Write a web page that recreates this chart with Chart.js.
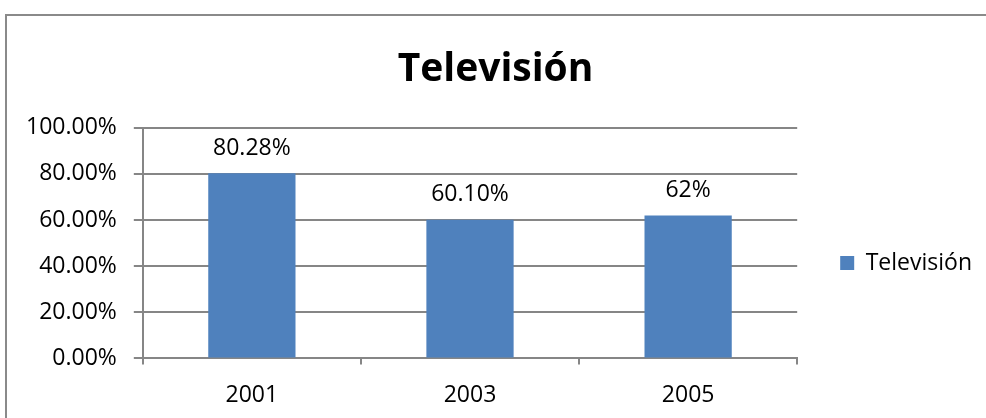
<!DOCTYPE html>
<html>
<head>
<meta charset="utf-8">
<script src="https://cdn.jsdelivr.net/npm/chart.js@4/dist/chart.umd.min.js"></script>
<style>
  html, body { margin: 0; padding: 0; background: #fff; overflow: hidden; }
  #wrap { position: relative; width: 986px; height: 418px; }
  #frame { position: absolute; left: 5px; top: 14px; width: 1000px; height: 500px;
           border: 2px solid #8a8a8a; pointer-events: none; }
  canvas { position: absolute; left: 0; top: 0; }
</style>
</head>
<body>
<div id="wrap">
  <canvas id="tv" width="986" height="418"></canvas>
  <div id="frame"></div>
</div>
<script>
// data
const years = ['2001', '2003', '2005'];
const tvShare = [80.28, 60.10, 62];
const tvLabels = ['80.28%', '60.10%', '62%'];
const seriesName = 'Televisión';

const FONT = "'Open Sans', 'Liberation Sans', sans-serif";
const TXT = 23;

// draws the value above each bar
const barLabels = {
  id: 'barLabels',
  afterDatasetsDraw(chart) {
    const ctx = chart.ctx;
    const meta = chart.getDatasetMeta(0);
    ctx.save();
    ctx.font = TXT + 'px ' + FONT;
    ctx.fillStyle = '#000';
    ctx.textAlign = 'center';
    ctx.textBaseline = 'middle';
    meta.data.forEach((bar, i) => {
      ctx.fillText(tvLabels[i], bar.x, bar.y - 25);
    });
    ctx.restore();
  }
};

let context = document.getElementById('tv').getContext('2d');
let tvChart = new Chart(context, {
  type: 'bar',
  data: {
    labels: years,
    datasets: [{
      label: seriesName,
      data: tvShare,
      backgroundColor: '#4F81BD',
      borderWidth: 0,
      barPercentage: 0.4,
      categoryPercentage: 1.0
    }]
  },
  plugins: [barLabels],
  options: {
    responsive: false,
    animation: false,
    layout: {
      padding: {left: 9, right: 4, top: 0, bottom: -8}
    },
    plugins: {
      tooltip: { enabled: false },
      title: {
        display: true,
        text: 'Televisión',
        color: '#000',
        font: { family: FONT, size: 39, weight: 'bold' },
        padding: { top: 46, bottom: 35 }
      },
      legend: {
        position: 'right',
        // empty legend title just pushes the item down
        title: { display: true, text: '', font: { size: 10 }, padding: 44 },
        labels: {
          color: '#000',
          boxWidth: 14,
          boxHeight: 14,
          padding: 43,
          font: { family: FONT, size: TXT }
        }
      }
    },
    scales: {
      x: {
        grid: {
          offset: true,
          drawOnChartArea: false,
          drawTicks: true,
          tickLength: 6,
          color: '#868686',
          lineWidth: 2
        },
        border: { color: '#868686', width: 2 },
        ticks: {
          color: '#000',
          padding: 17,
          font: { family: FONT, size: TXT }
        }
      },
      y: {
        min: 0,
        max: 100,
        grid: {
          color: '#868686',
          lineWidth: 2,
          tickLength: 9
        },
        border: { color: '#868686', width: 2 },
        ticks: {
          stepSize: 20,
          color: '#000',
          padding: 17,
          font: { family: FONT, size: TXT },
          callback: v => v.toFixed(2) + '%'
        }
      }
    }
  }
});
</script>
</body>
</html>
